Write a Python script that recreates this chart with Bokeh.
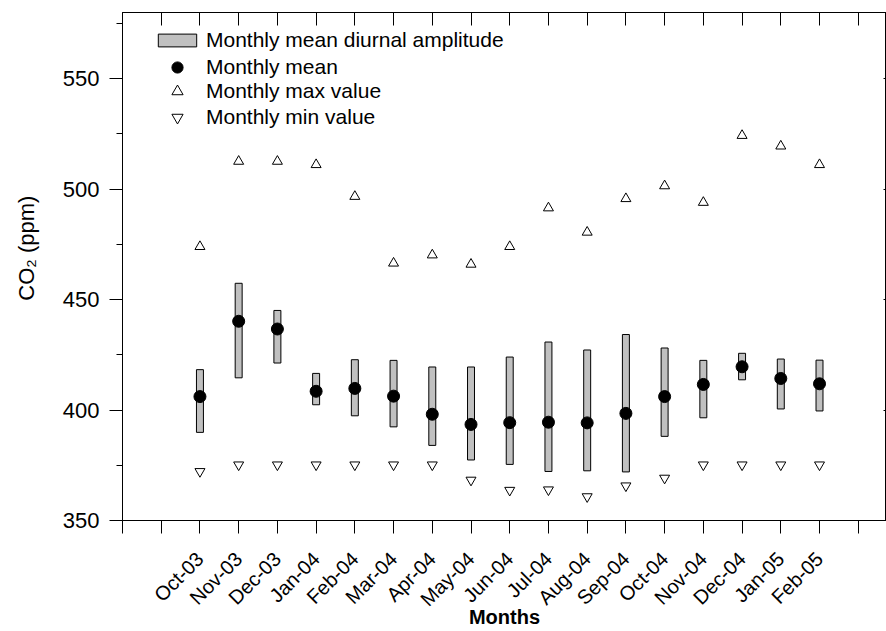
import math
from bokeh.plotting import figure
from bokeh.models import (ColumnDataSource, FixedTicker, LinearAxis, Range1d,
                          Legend, LegendItem)
from bokeh.embed import file_html
from bokeh.resources import INLINE

# ---------------- data ----------------
months = ["Oct-03", "Nov-03", "Dec-03", "Jan-04", "Feb-04", "Mar-04", "Apr-04",
          "May-04", "Jun-04", "Jul-04", "Aug-04", "Sep-04", "Oct-04", "Nov-04",
          "Dec-04", "Jan-05", "Feb-05"]
monthly_mean = [406.1, 440.2, 436.7, 408.5, 409.8, 406.3, 398.1, 393.5, 394.3,
                394.5, 394.2, 398.5, 406.1, 411.6, 419.6, 414.3, 411.9]
amplitude_top = [418.3, 457.4, 445.1, 416.6, 422.8, 422.5, 419.5, 419.5, 424.0,
                 430.8, 427.2, 434.2, 428.1, 422.5, 425.7, 423.1, 422.6]
amplitude_bottom = [389.9, 414.6, 421.3, 402.4, 397.4, 392.4, 384.0, 377.4, 375.4,
                    372.2, 372.5, 372.0, 388.1, 396.5, 413.7, 400.5, 399.6]
monthly_max = [474.0, 512.6, 512.6, 511.1, 496.7, 466.5, 470.2, 466.0, 474.0,
               491.5, 480.5, 495.7, 501.5, 494.0, 524.3, 519.5, 511.1]
monthly_min = [372.2, 375.2, 375.2, 375.2, 375.2, 375.2, 375.2, 368.3, 363.7,
               363.9, 360.8, 365.7, 369.2, 375.2, 375.2, 375.2, 375.2]
y_major = [350, 400, 450, 500, 550]
y_minor = [375, 425, 475, 525, 575]

FONT = "Liberation Sans"

idx = list(range(len(months)))
src = ColumnDataSource(dict(x=idx, mean=monthly_mean, top=amplitude_top,
                            bottom=amplitude_bottom, maxv=monthly_max,
                            minv=monthly_min))

# leading no-break spaces lift the rotated label a little above the frame centre,
# as in the reference
y_label = "\u00a0" * 6 + "CO\u2082 (ppm)"

p = figure(width=886, height=631, output_backend="svg", toolbar_location=None,
           x_range=Range1d(-2, 17.73), y_range=Range1d(350, 580),
           min_border_left=122, min_border_right=0, min_border_top=12,
           min_border_bottom=111,
           x_axis_label="Months", y_axis_label=y_label)
p.background_fill_color = "white"
p.border_fill_color = "white"
p.outline_line_color = "black"
p.outline_line_width = 1
p.xgrid.visible = False
p.ygrid.visible = False

x_ticks = list(range(-2, 18))
x_over = {t: "" for t in x_ticks}
for i, m in enumerate(months):
    x_over[i] = m

# bottom axis
xa = p.xaxis[0]
xa.ticker = FixedTicker(ticks=x_ticks, minor_ticks=[])
xa.major_label_overrides = x_over
xa.major_label_orientation = math.pi / 4
xa.major_label_text_font = FONT
xa.major_label_text_font_size = "20px"
xa.major_label_text_color = "black"
xa.major_label_standoff = 22
xa.major_tick_in = 0
xa.major_tick_out = 13
xa.minor_tick_in = 0
xa.minor_tick_out = 0
xa.axis_line_color = "black"
xa.major_tick_line_color = "black"
xa.axis_label_text_font = FONT
xa.axis_label_text_font_size = "20px"
xa.axis_label_text_font_style = "bold"
xa.axis_label_text_color = "black"
xa.axis_label_standoff = -15

# left axis
ya = p.yaxis[0]
ya.ticker = FixedTicker(ticks=y_major, minor_ticks=y_minor)
ya.major_label_text_font = FONT
ya.major_label_text_font_size = "22px"
ya.major_label_text_color = "black"
ya.major_label_standoff = 10
ya.major_tick_in = 0
ya.major_tick_out = 13
ya.minor_tick_in = 0
ya.minor_tick_out = 6
ya.axis_line_color = "black"
ya.major_tick_line_color = "black"
ya.minor_tick_line_color = "black"
ya.axis_label_text_font = FONT
ya.axis_label_text_font_size = "22px"
ya.axis_label_text_font_style = "normal"
ya.axis_label_text_color = "black"
ya.axis_label_standoff = 21

# top axis (ticks pointing inward, no labels)
top_axis = LinearAxis(ticker=FixedTicker(ticks=x_ticks, minor_ticks=[]),
                      major_label_overrides={t: "" for t in x_ticks},
                      major_label_standoff=0, major_tick_in=13, major_tick_out=0,
                      minor_tick_in=0, minor_tick_out=0,
                      axis_line_color="black", major_tick_line_color="black")
p.add_layout(top_axis, "above")

# right axis (frame edge at the picture's border; only short inward stubs)
right_axis = LinearAxis(ticker=FixedTicker(ticks=y_major, minor_ticks=[]),
                        major_label_overrides={t: "" for t in y_major},
                        major_label_standoff=0, major_tick_in=3, major_tick_out=0,
                        minor_tick_in=0, minor_tick_out=0,
                        axis_line_color="black", major_tick_line_color="black")
p.add_layout(right_axis, "right")

# glyphs
r_bar = p.vbar(x="x", top="top", bottom="bottom", width=0.18, source=src,
               fill_color="#c0c0c0", line_color="black", line_width=1)
r_mean = p.scatter(x="x", y="mean", source=src, marker="circle", size=12,
                   fill_color="black", line_color="black")
r_max = p.scatter(x="x", y="maxv", source=src, marker="triangle", size=10,
                  fill_color="white", line_color="black", line_width=1)
r_min = p.scatter(x="x", y="minv", source=src, marker="inverted_triangle", size=10,
                  fill_color="white", line_color="black", line_width=1)

def make_legend(label, renderer, gh, vy):
    lg = Legend(items=[LegendItem(label=label, renderers=[renderer])],
                location=(31, vy))
    lg.border_line_color = None
    lg.background_fill_alpha = 0
    lg.glyph_width = 48
    lg.glyph_height = gh
    lg.label_standoff = 5
    lg.spacing = 0
    lg.padding = 0
    lg.margin = 0
    lg.label_text_font = FONT
    lg.label_text_font_size = "21px"
    lg.label_text_color = "black"
    p.add_layout(lg)

make_legend("Monthly mean diurnal amplitude", r_bar, 16, 468)
make_legend("Monthly mean", r_mean, 28, 439)
make_legend("Monthly max value", r_max, 28, 415)
make_legend("Monthly min value", r_min, 28, 389)

open("out.html", "w").write(file_html(p, INLINE))
